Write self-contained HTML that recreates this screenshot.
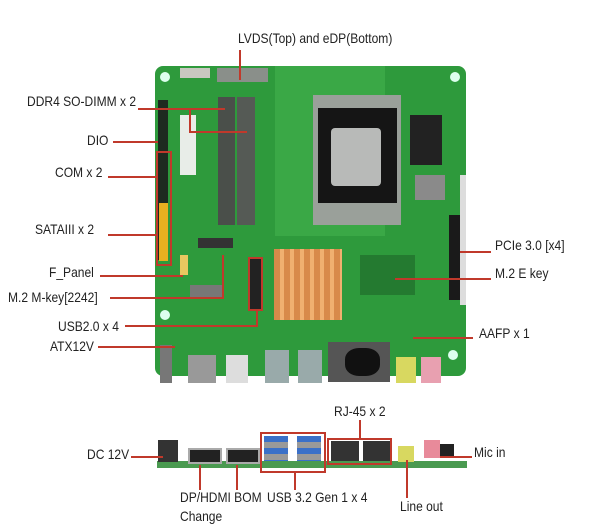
<!DOCTYPE html>
<html><head><meta charset="utf-8">
<style>
body{margin:0;width:600px;height:532px;background:#fff;position:relative;overflow:hidden;font-family:"Liberation Sans",sans-serif;}
.a{position:absolute;}
.t{position:absolute;font-size:14px;color:#222;white-space:nowrap;line-height:14px;transform:scaleX(0.86);transform-origin:0 0;}
.h{position:absolute;height:2px;background:#c0392b;}
.v{position:absolute;width:2px;background:#c0392b;}
.b{position:absolute;border:2px solid #c0392b;box-sizing:border-box;}
</style></head><body>
<!-- main board -->
<div class="a" style="left:155px;top:66px;width:311px;height:310px;background:#2e9a3c;border-radius:8px;"></div>
<div class="a" style="left:275px;top:66px;width:110px;height:170px;background:#3aa846;"></div>
<div class="a" style="left:160px;top:72px;width:10px;height:10px;border-radius:50%;background:#dfe;"></div>
<div class="a" style="left:450px;top:72px;width:10px;height:10px;border-radius:50%;background:#dfe;"></div>
<div class="a" style="left:448px;top:350px;width:10px;height:10px;border-radius:50%;background:#dfe;"></div>
<div class="a" style="left:160px;top:310px;width:10px;height:10px;border-radius:50%;background:#dfe;"></div>
<div class="a" style="left:217px;top:68px;width:51px;height:14px;background:#8a8f8a;"></div>
<div class="a" style="left:180px;top:68px;width:30px;height:10px;background:#c8c8c0;"></div>
<div class="a" style="left:218px;top:97px;width:17px;height:128px;background:#4a4f4a;"></div>
<div class="a" style="left:237px;top:97px;width:18px;height:128px;background:#555a55;"></div>
<div class="a" style="left:180px;top:115px;width:16px;height:60px;background:#e8ede8;"></div>
<div class="a" style="left:158px;top:100px;width:10px;height:160px;background:#1e2a20;"></div>
<div class="a" style="left:159px;top:203px;width:9px;height:58px;background:#e8b020;"></div>
<div class="a" style="left:180px;top:255px;width:8px;height:20px;background:#e8c860;"></div>
<div class="a" style="left:313px;top:95px;width:88px;height:130px;background:#9aa09a;"></div>
<div class="a" style="left:318px;top:108px;width:79px;height:95px;background:#151515;"></div>
<div class="a" style="left:331px;top:128px;width:50px;height:58px;background:#b8bab8;border-radius:4px;"></div>
<div class="a" style="left:410px;top:115px;width:32px;height:50px;background:#222;"></div>
<div class="a" style="left:415px;top:175px;width:30px;height:25px;background:#8a8a8a;"></div>
<div class="a" style="left:198px;top:238px;width:35px;height:10px;background:#333;"></div>
<div class="a" style="left:190px;top:285px;width:32px;height:14px;background:#777;"></div>
<div class="a" style="left:250px;top:258px;width:11px;height:52px;background:#222;"></div>
<div class="a" style="left:274px;top:249px;width:68px;height:71px;background:repeating-linear-gradient(90deg,#d88a4a 0 6px,#f0b070 6px 10px);"></div>
<div class="a" style="left:449px;top:215px;width:11px;height:85px;background:#1a1a1a;"></div>
<div class="a" style="left:460px;top:175px;width:6px;height:130px;background:#ddd;"></div>
<div class="a" style="left:360px;top:255px;width:55px;height:40px;background:#247a30;"></div>
<div class="a" style="left:160px;top:345px;width:12px;height:38px;background:#777;"></div>
<div class="a" style="left:188px;top:355px;width:28px;height:28px;background:#999;"></div>
<div class="a" style="left:226px;top:355px;width:22px;height:28px;background:#ddd;"></div>
<div class="a" style="left:265px;top:350px;width:24px;height:33px;background:#9aa;"></div>
<div class="a" style="left:298px;top:350px;width:24px;height:33px;background:#9aa;"></div>
<div class="a" style="left:328px;top:342px;width:62px;height:40px;background:#555;"></div>
<div class="a" style="left:345px;top:348px;width:35px;height:28px;background:#111;border-radius:40%;"></div>
<div class="a" style="left:396px;top:357px;width:20px;height:26px;background:#d8d860;"></div>
<div class="a" style="left:421px;top:357px;width:20px;height:26px;background:#e8a0b0;"></div>

<!-- bottom strip -->
<div class="a" style="left:157px;top:461px;width:310px;height:7px;background:#4a9a50;"></div>
<div class="a" style="left:158px;top:440px;width:20px;height:22px;background:#333;"></div>
<div class="a" style="left:188px;top:448px;width:30px;height:12px;background:#222;border:2px solid #aaa;"></div>
<div class="a" style="left:226px;top:448px;width:30px;height:12px;background:#222;border:2px solid #aaa;"></div>
<div class="a" style="left:264px;top:436px;width:24px;height:25px;background:repeating-linear-gradient(180deg,#3a70c8 0 6px,#999 6px 12px);"></div>
<div class="a" style="left:297px;top:436px;width:24px;height:25px;background:repeating-linear-gradient(180deg,#3a70c8 0 6px,#999 6px 12px);"></div>
<div class="a" style="left:331px;top:441px;width:28px;height:20px;background:#333;"></div>
<div class="a" style="left:363px;top:441px;width:27px;height:20px;background:#333;"></div>
<div class="a" style="left:398px;top:446px;width:16px;height:16px;background:#d8d860;"></div>
<div class="a" style="left:424px;top:440px;width:16px;height:18px;background:#e88a9a;"></div>
<div class="a" style="left:440px;top:444px;width:14px;height:14px;background:#222;"></div>

<!-- red lines/boxes top -->
<div class="v" style="left:239px;top:50px;height:30px;"></div>
<div class="h" style="left:138px;top:108px;width:87px;"></div>
<div class="v" style="left:189px;top:108px;height:25px;"></div>
<div class="h" style="left:189px;top:131px;width:58px;"></div>
<div class="h" style="left:113px;top:141px;width:45px;"></div>
<div class="b" style="left:156px;top:151px;width:16px;height:115px;"></div>
<div class="h" style="left:108px;top:176px;width:49px;"></div>
<div class="h" style="left:108px;top:234px;width:49px;"></div>
<div class="h" style="left:100px;top:275px;width:83px;"></div>
<div class="h" style="left:110px;top:297px;width:114px;"></div>
<div class="v" style="left:222px;top:255px;height:44px;"></div>
<div class="b" style="left:248px;top:257px;width:15px;height:54px;"></div>
<div class="v" style="left:256px;top:310px;height:17px;"></div>
<div class="h" style="left:125px;top:325px;width:133px;"></div>
<div class="h" style="left:98px;top:346px;width:77px;"></div>
<div class="h" style="left:460px;top:251px;width:31px;"></div>
<div class="h" style="left:395px;top:278px;width:96px;"></div>
<div class="h" style="left:413px;top:337px;width:60px;"></div>

<!-- bottom red -->
<div class="h" style="left:131px;top:456px;width:32px;"></div>
<div class="b" style="left:260px;top:432px;width:66px;height:41px;"></div>
<div class="b" style="left:327px;top:438px;width:65px;height:27px;"></div>
<div class="v" style="left:359px;top:420px;height:19px;"></div>
<div class="v" style="left:294px;top:472px;height:18px;"></div>
<div class="v" style="left:199px;top:465px;height:25px;"></div>
<div class="v" style="left:236px;top:465px;height:25px;"></div>
<div class="v" style="left:406px;top:460px;height:38px;"></div>
<div class="h" style="left:440px;top:456px;width:32px;"></div>

<!-- labels -->
<div class="t" style="left:238px;top:31px;">LVDS(Top) and eDP(Bottom)</div>
<div class="t" style="left:27px;top:94px;">DDR4 SO-DIMM x 2</div>
<div class="t" style="left:87px;top:133px;">DIO</div>
<div class="t" style="left:55px;top:165px;">COM x 2</div>
<div class="t" style="left:35px;top:222px;">SATAIII x 2</div>
<div class="t" style="left:49px;top:265px;">F_Panel</div>
<div class="t" style="left:8px;top:290px;">M.2 M-key[2242]</div>
<div class="t" style="left:58px;top:319px;">USB2.0 x 4</div>
<div class="t" style="left:50px;top:339px;">ATX12V</div>
<div class="t" style="left:495px;top:238px;">PCIe 3.0 [x4]</div>
<div class="t" style="left:495px;top:266px;">M.2 E key</div>
<div class="t" style="left:479px;top:326px;">AAFP x 1</div>
<div class="t" style="left:334px;top:404px;">RJ-45 x 2</div>
<div class="t" style="left:87px;top:447px;">DC 12V</div>
<div class="t" style="left:474px;top:445px;">Mic in</div>
<div class="t" style="left:180px;top:490px;">DP/HDMI BOM</div>
<div class="t" style="left:180px;top:509px;">Change</div>
<div class="t" style="left:267px;top:490px;">USB 3.2 Gen 1 x 4</div>
<div class="t" style="left:400px;top:499px;">Line out</div>
</body></html>
